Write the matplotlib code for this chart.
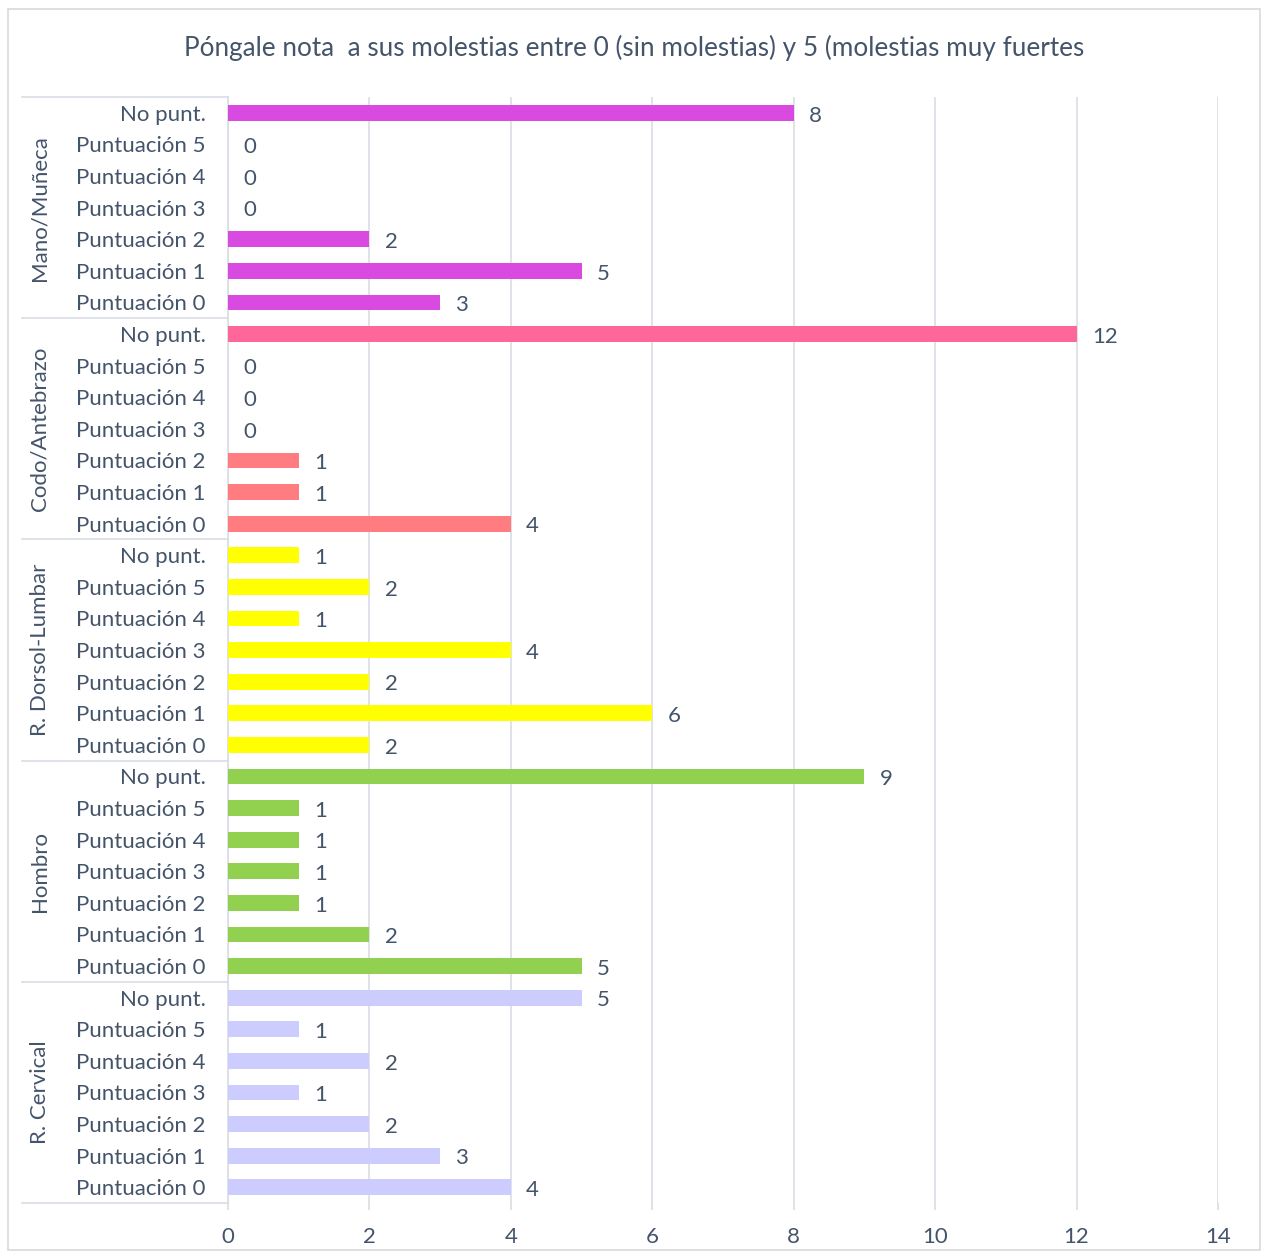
import matplotlib
matplotlib.use("Agg")
import matplotlib.pyplot as plt
from matplotlib.patches import Rectangle
import matplotlib.transforms as mtransforms

plt.rcParams['font.family'] = ['Lato', 'DejaVu Sans']

title = "Póngale nota  a sus molestias entre 0 (sin molestias) y 5 (molestias muy fuertes"
scores = ["Puntuación 0", "Puntuación 1", "Puntuación 2", "Puntuación 3",
          "Puntuación 4", "Puntuación 5", "No punt."]
groups = ["R. Cervical", "Hombro", "R. Dorsol-Lumbar", "Codo/Antebrazo", "Mano/Muñeca"]

cervical = [4, 3, 2, 1, 2, 1, 5]
hombro = [5, 2, 1, 1, 1, 1, 9]
dorsolumbar = [2, 6, 2, 4, 1, 2, 1]
codo = [4, 1, 1, 0, 0, 0, 12]
mano = [3, 5, 2, 0, 0, 0, 8]
group_values = [cervical, hombro, dorsolumbar, codo, mano]

group_colors = [
    ["#CCCCFF"] * 7,
    ["#92D050"] * 7,
    ["#FFFF00"] * 7,
    ["#FF7C80"] * 6 + ["#FF6699"],
    ["#D94BE0"] * 7,
]
xticks = [0, 2, 4, 6, 8, 10, 12, 14]

text_color = "#44546A"
grid_color = "#D9DDE4"

W, H = 1267, 1259
fig = plt.figure(figsize=(W / 100, H / 100), dpi=100)
fig.patch.set_facecolor("white")

# outer chart border
fig.add_artist(Rectangle((8 / W, 1 - 1250 / H), (1260 - 8) / W, (1250 - 9) / H,
                         transform=fig.transFigure, fill=False,
                         edgecolor="#D9D9D9", linewidth=1.2))

left, right, top, bottom = 228, 1218, 97, 1203
ax = fig.add_axes([left / W, 1 - bottom / H, (right - left) / W, (bottom - top) / H])

labels = []
values = []
colors = []
for g, vals, cols in zip(groups, group_values, group_colors):
    labels += scores
    values += vals
    colors += cols

ypos = list(range(len(values)))
ax.barh(ypos, values, height=0.5, color=colors, zorder=3)

for y, v in zip(ypos, values):
    ax.annotate(str(v), xy=(v, y), xytext=(11, -2), textcoords="offset points",
                ha="left", va="center", fontsize=16, color=text_color)

ax.set_xlim(0, 14)
ax.set_ylim(-0.5, len(values) - 0.5)
ax.set_xticks(xticks)
ax.set_xticklabels([str(t) for t in xticks])
ax.set_yticks(ypos)
ax.set_yticklabels(labels)
ax.tick_params(axis="y", length=0, pad=16, labelsize=16, labelcolor=text_color)
ax.tick_params(axis="x", length=5, width=1.2, color=grid_color, pad=12,
               labelsize=16, labelcolor=text_color)
ax.xaxis.grid(True, color=grid_color, linewidth=1.2, zorder=0)
for s in ["top", "right", "bottom"]:
    ax.spines[s].set_visible(False)
ax.spines["left"].set_color(grid_color)
ax.spines["left"].set_linewidth(1.2)

# group separators and group labels
trans = mtransforms.blended_transform_factory(ax.transAxes, ax.transData)
x0 = (22 - left) / (right - left)
n = len(scores)
for i in range(len(groups) + 1):
    yb = i * n - 0.5
    ax.plot([x0, 0], [yb, yb], transform=trans, color=grid_color,
            linewidth=1.2, clip_on=False)
xg = (40 - left) / (right - left)
for i, g in enumerate(groups):
    ax.text(xg, i * n + (n - 1) / 2, g, transform=trans, rotation=90,
            ha="center", va="center", fontsize=16, color=text_color)

fig.text(634 / W, 1 - 48 / H, title, ha="center", va="center",
         fontsize=18.8, color=text_color)

fig.savefig("out.png", dpi=100)
